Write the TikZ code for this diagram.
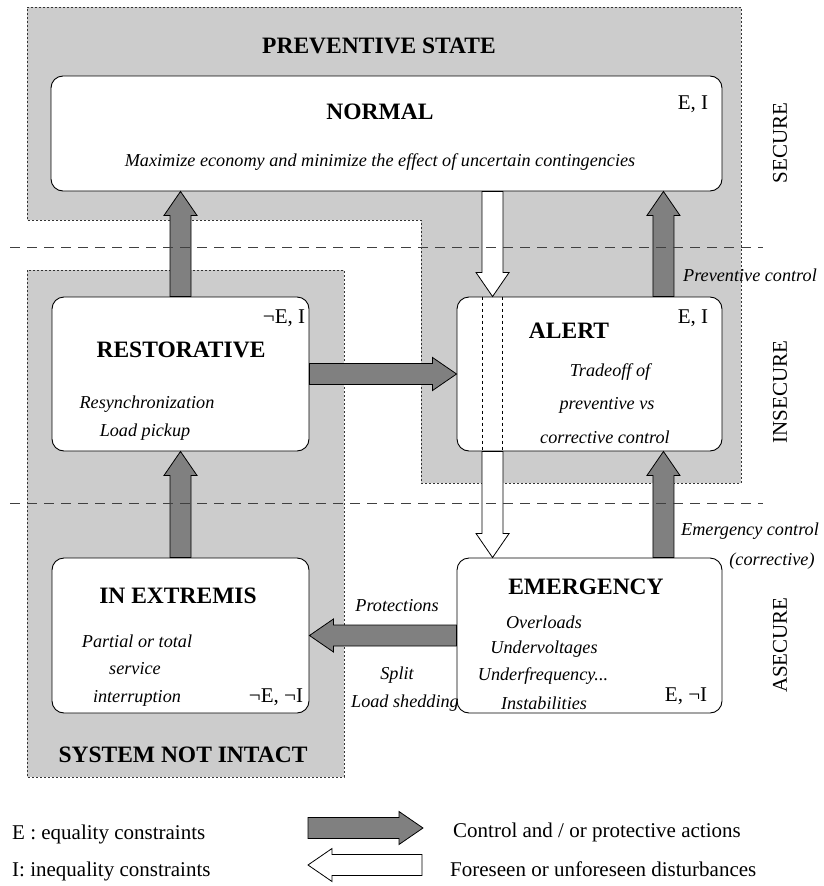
\documentclass[tikz,border=0pt]{standalone}
\usepackage{fontspec}
\setmainfont{Liberation Serif}
\usetikzlibrary{calc,positioning}
\tikzset{
region/.style={
  fill=black!20,
  draw=black!80,
  line width=0.8pt,
  dash pattern=on 2pt off 2pt,
  }
}
\tikzset{
statebox/.style={
  draw=black,
  fill=white,
  line width=0.9pt,
  rounded corners=12pt,
  }
}
\tikzset{
ctrl/.style={fill=black!50, draw=black, line width=0.8pt},
dist/.style={fill=white, draw=black, line width=0.8pt},
sepline/.style={draw=black!75, line width=0.8pt, dash pattern=on 10pt off 7pt},
title/.style={font=\fontsize{23.5}{26}\selectfont\bfseries, inner sep=0pt},
note/.style={font=\fontsize{18.2}{20}\selectfont\itshape, inner sep=0pt},
plain/.style={font=\fontsize{21}{24}\selectfont, inner sep=0pt},
}
% block arrow from #2 to #3, drawn with style #1
\newcommand{\blockarrow}[3]{%
  \coordinate (ah) at ($(#3)!24pt!(#2)$);
  \draw[#1] ($(#2)!10.5pt!90:(#3)$) -- ($(ah)!10.5pt!90:(#3)$) -- ($(ah)!16.5pt!90:(#3)$)
    -- (#3) -- ($(ah)!16.5pt!-90:(#3)$) -- ($(ah)!10.5pt!-90:(#3)$) -- ($(#2)!10.5pt!-90:(#3)$) -- cycle;
}

\begin{document}
\begin{tikzpicture}[x=1pt,y=-1pt]
    \useasboundingbox (0,0) rectangle (823,886);

    % shaded areas
    \draw[region] (27,7) -- (741,7) -- (741,483) -- (421,483) -- (421,220) -- (27,220) -- cycle;
    \draw[region] (27,270) rectangle (344,777);

    % state boxes
    \node[statebox, minimum width=671pt, minimum height=115pt] (normal) at (386.5,133.5) {};
    \node[statebox, minimum width=257pt, minimum height=154pt] (rest) at (180.5,374) {};
    \node[statebox, minimum width=265pt, minimum height=154pt] (alert) at (589.5,374) {};
    \node[statebox, minimum width=257pt, minimum height=155pt] (extr) at (180.5,635.5) {};
    \node[statebox, minimum width=265pt, minimum height=155pt] (emerg) at (589.5,635.5) {};

    % arrow ends
    \coordinate (r_n) at (rest.north |- normal.south);
    \coordinate (x_r) at (extr.north |- rest.south);
    \coordinate (pc_a) at ([xshift=-59pt]alert.north east);
    \coordinate (pc_n) at (pc_a |- normal.south);
    \coordinate (ec_e) at ([xshift=-59pt]emerg.north east);
    \coordinate (ec_a) at (ec_e |- alert.south);
    \coordinate (d_a) at ([xshift=36pt]alert.north west);
    \coordinate (d_n) at (d_a |- normal.south);
    \coordinate (d_b) at ([xshift=36pt]alert.south west);
    \coordinate (d_e) at (d_b |- emerg.north);

    % control arrows
    \blockarrow{ctrl}{rest.north}{r_n}
    \blockarrow{ctrl}{extr.north}{x_r}
    \blockarrow{ctrl}{pc_a}{pc_n}
    \blockarrow{ctrl}{ec_e}{ec_a}
    \blockarrow{ctrl}{rest.east}{alert.west}
    \blockarrow{ctrl}{emerg.west}{extr.east}

    % disturbance arrows
    \blockarrow{dist}{d_n}{d_a}
    \blockarrow{dist}{d_b}{d_e}
    \draw[dashed, line width=0.8pt] ([xshift=-10pt]d_a) -- ([xshift=-10pt]d_b);
    \draw[dashed, line width=0.8pt] ([xshift=10pt]d_a) -- ([xshift=10pt]d_b);

    % security levels
    \draw[sepline] (10,247) -- (763,247);
    \draw[sepline] (10,503) -- (763,503);
    \node[plain, rotate=90] (sec) at (780,143) {SECURE};
    \node[plain, rotate=90] (insec) at (780,392) {INSECURE};
    \node[plain, rotate=90] (asec) at (780,645) {ASECURE};

    % normal part
    \node[title] (prev) at (379,46) {PREVENTIVE STATE};
    \node[title] (normal_t) at (380,112) {NORMAL};
    \node[note] (normal_d) at (380,162) {Maximize economy and minimize the effect of uncertain contingencies};
    \node[plain] (normal_c) at (693,104) {E, I};

    % restorative part
    \node[title] (rest_t) at (181,350) {RESTORATIVE};
    \node[plain] (rest_c) at (284,318) {¬E, I};
    \node[note] (rest_d1) at (147,404) {Resynchronization};
    \node[note] (rest_d2) at (145,432) {Load pickup};

    % alert part
    \node[title] (alert_t) at (569,331) {ALERT};
    \node[plain] (alert_c) at (693,318) {E, I};
    \node[note] (alert_d1) at (610,372) {Tradeoff of};
    \node[note] (alert_d2) at (607,405) {preventive vs};
    \node[note] (alert_d3) at (605,437) {corrective control};
    \node[note] (pc_l) at (750,275) {Preventive control};

    % emergency part
    \node[title] (emerg_t) at (586,587) {EMERGENCY};
    \node[note] (emerg_d1) at (544,622) {Overloads};
    \node[note] (emerg_d2) at (544,649) {Undervoltages};
    \node[note] (emerg_d3) at (543,676) {Underfrequency...};
    \node[note] (emerg_d4) at (544,703) {Instabilities};
    \node[plain] (emerg_c) at (686,696) {E, ¬I};
    \node[note] (ec_l1) at (750,531) {Emergency control};
    \node[note] (ec_l2) at (772,561) {(corrective)};
    \node[note] (prot_l1) at (397,606) {Protections};
    \node[note] (prot_l2) at (397,675) {Split};
    \node[note] (prot_l3) at (405,703) {Load shedding};

    % in extremis part
    \node[title] (extr_t) at (178,596) {IN EXTREMIS};
    \node[note] (extr_d1) at (137,641) {Partial or total};
    \node[note] (extr_d2) at (135,669) {service};
    \node[note] (extr_d3) at (137,698) {interruption};
    \node[plain] (extr_c) at (276,697) {¬E, ¬I};
    \node[title] (intact) at (183,755) {SYSTEM NOT INTACT};

    % legend
    \node[plain, anchor=west] (leg_e) at (12,834) {E : equality constraints};
    \node[plain, anchor=west] (leg_i) at (12,871) {I: inequality constraints};
    \coordinate (lg_a1) at (308,828);
    \coordinate (lg_a2) at (423,828);
    \coordinate (lg_b1) at (422,865);
    \coordinate (lg_b2) at (308,865);
    \blockarrow{ctrl}{lg_a1}{lg_a2}
    \blockarrow{dist}{lg_b1}{lg_b2}
    \node[plain, anchor=west] (leg_c) at (453,832) {Control and / or protective actions};
    \node[plain, anchor=west] (leg_d) at (450,869) {Foreseen or unforeseen disturbances};
\end{tikzpicture}
\end{document}
